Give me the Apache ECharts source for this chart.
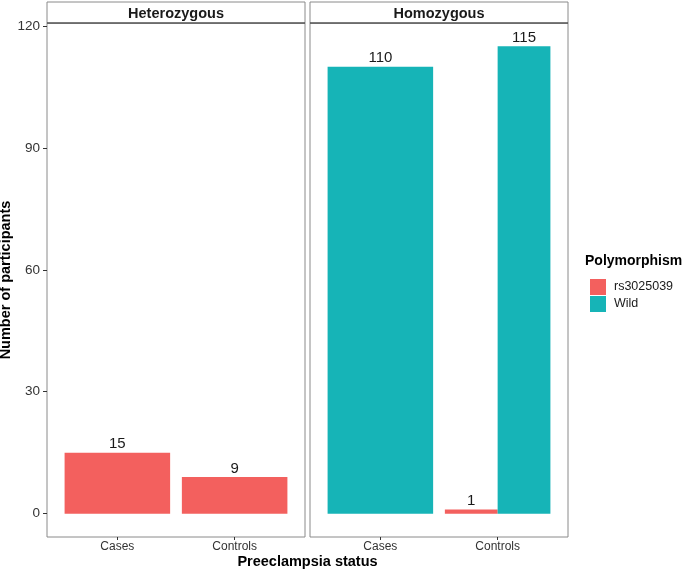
<!DOCTYPE html>
<html>
<head>
<meta charset="utf-8">
<script src="https://cdn.jsdelivr.net/npm/echarts@6/dist/echarts.min.js"></script>
<style>
  html, body { margin: 0; padding: 0; background: #fff; }
  #chart { width: 685px; height: 572px; }
</style>
</head>
<body>
<div id="chart"></div>
<script>
const facets = ['Heterozygous', 'Homozygous']
const categories = ['Cases', 'Controls']
const groups = ['rs3025039', 'Wild']
// counts per facet, then per category (null = no bar drawn)
const rsCounts = [[15, 9], [null, 1]]
const wildCounts = [[null, null], [110, 115]]
const yTicks = [0, 30, 60, 90, 120]

const colors = { rs3025039: '#F3605E', Wild: '#16B4B7' }
const font = '"Liberation Sans", Arial, sans-serif'
const panelLeft = [47, 310]
const panelWidth = 258
const panelTop = 23
const panelHeight = 514
const unitPx = panelWidth / 2.2 // x range 0.4 .. 2.6 like ggplot's discrete expansion

const grids = []
const xAxes = []
const yAxes = []
const series = []

function makeXAxis(f, visible) {
  return {
    type: 'value',
    gridIndex: f,
    min: 0.4,
    max: 2.6,
    show: visible,
    splitLine: { show: false },
    axisLine: { show: false, onZero: false },
    axisTick: { show: true, customValues: [1, 2], length: 3, lineStyle: { color: '#333' } },
    axisLabel: {
      customValues: [1, 2],
      formatter: (v) => categories[Math.round(v) - 1] || '',
      fontFamily: font,
      fontSize: 12,
      color: '#333',
      margin: 4
    }
  }
}

facets.forEach((facet, f) => {
  grids.push({
    left: panelLeft[f],
    top: panelTop,
    width: panelWidth,
    height: panelHeight,
    outerBoundsMode: 'none',
    show: true,
    borderColor: '#8a8a8a',
    borderWidth: 1
  })

  yAxes.push({
    type: 'value',
    gridIndex: f,
    min: -5.75,
    max: 120.75,
    splitLine: { show: false },
    axisLine: { show: false },
    axisTick: { show: f === 0, customValues: yTicks, length: 4, lineStyle: { color: '#333' } },
    axisLabel: {
      show: f === 0,
      customValues: yTicks,
      fontFamily: font,
      fontSize: 13.5,
      color: '#333',
      margin: 7
    },
    name: f === 0 ? 'Number of participants' : '',
    nameLocation: 'middle',
    nameGap: 29,
    nameTextStyle: { fontFamily: font, fontSize: 14.5, fontWeight: 'bold', color: '#000' }
  })

  const values = { rs3025039: rsCounts[f], Wild: wildCounts[f] }
  // bars alone in a category take full width, otherwise they are dodged
  const slots = {}
  categories.forEach((cat, c) => {
    const present = groups.filter((g) => values[g][c] != null)
    present.forEach((g, i) => {
      const dodge = present.length > 1
      const key = g + (dodge ? '-half' : '-full')
      const x = dodge ? c + 1 - 0.225 + i * 0.45 : c + 1
      if (!slots[key]) slots[key] = { group: g, dodge, data: [] }
      slots[key].data.push([x, values[g][c]])
    })
  })

  let first = true
  Object.values(slots).forEach((slot) => {
    const xi = xAxes.length
    xAxes.push(makeXAxis(f, first))
    first = false
    series.push({
      type: 'bar',
      name: slot.group,
      xAxisIndex: xi,
      yAxisIndex: f,
      data: slot.data,
      barWidth: (slot.dodge ? 0.45 : 0.9) * unitPx,
      itemStyle: { color: colors[slot.group] },
      label: {
        show: true,
        position: 'top',
        distance: 1,
        formatter: (p) => p.value[1],
        fontFamily: font,
        fontSize: 15,
        color: '#1a1a1a'
      }
    })
  })
})

const graphics = []
facets.forEach((facet, f) => {
  graphics.push({
    type: 'rect',
    shape: { x: panelLeft[f], y: 2, width: panelWidth, height: panelTop - 2 },
    style: { fill: '#fff', stroke: '#8a8a8a', lineWidth: 1 }
  })
  graphics.push({
    type: 'line',
    shape: { x1: panelLeft[f], y1: panelTop, x2: panelLeft[f] + panelWidth, y2: panelTop },
    style: { stroke: '#333', lineWidth: 1.2 }
  })
  graphics.push({
    type: 'text',
    x: panelLeft[f] + panelWidth / 2,
    y: 13.5,
    style: {
      text: facet,
      fontFamily: font,
      fontSize: 14.5,
      fontWeight: 'bold',
      fill: '#1a1a1a',
      align: 'center',
      verticalAlign: 'middle'
    }
  })
})
graphics.push({
  type: 'text',
  x: (panelLeft[0] + panelLeft[1] + panelWidth) / 2,
  y: 562,
  style: {
    text: 'Preeclampsia status',
    fontFamily: font,
    fontSize: 14.5,
    fontWeight: 'bold',
    fill: '#000',
    align: 'center',
    verticalAlign: 'middle'
  }
})
graphics.push({
  type: 'text',
  x: 585,
  y: 261,
  style: {
    text: 'Polymorphism',
    fontFamily: font,
    fontSize: 14,
    fontWeight: 'bold',
    fill: '#000',
    align: 'left',
    verticalAlign: 'middle'
  }
})

const chart = echarts.init(document.getElementById('chart'), null, { renderer: 'canvas' })
chart.setOption({
  backgroundColor: '#fff',
  animation: false,
  grid: grids,
  xAxis: xAxes,
  yAxis: yAxes,
  series: series,
  legend: {
    data: groups,
    orient: 'vertical',
    left: 585,
    top: 274,
    itemWidth: 16,
    itemHeight: 16,
    itemGap: 1,
    icon: 'rect',
    selectedMode: false,
    textStyle: { fontFamily: font, fontSize: 12.5, color: '#1a1a1a', padding: [0, 0, 0, 3] }
  },
  graphic: graphics
})
</script>
</body>
</html>
